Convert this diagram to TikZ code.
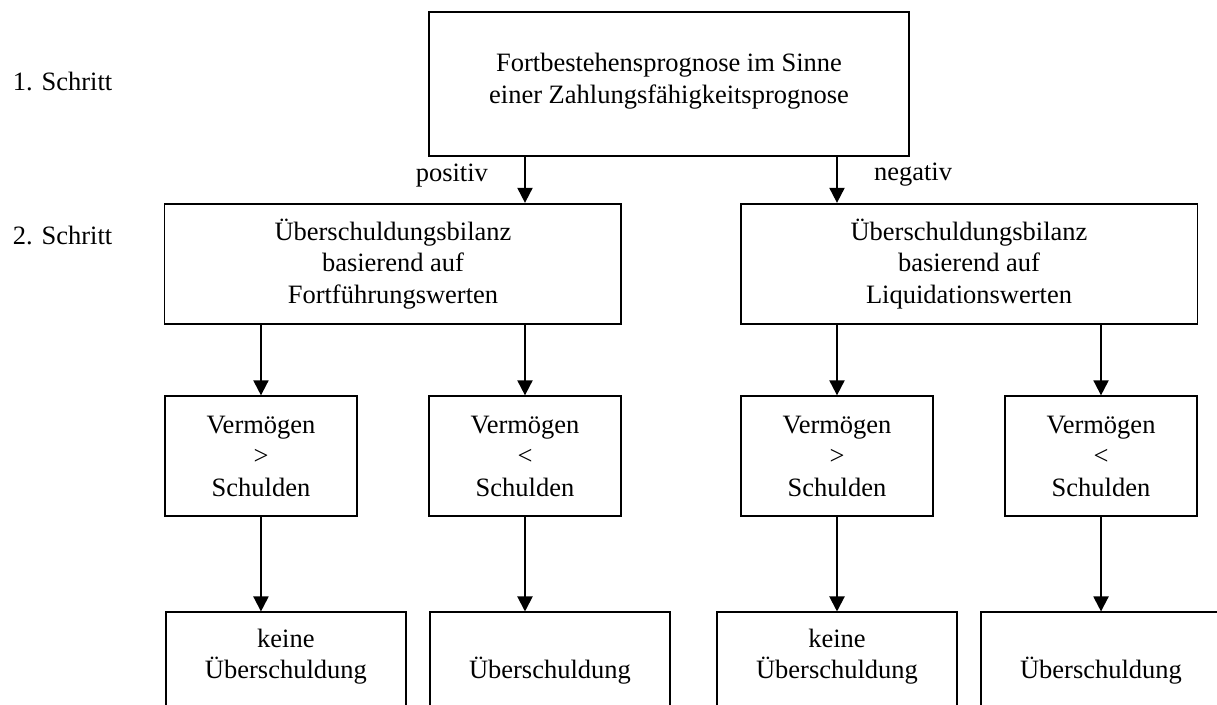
\documentclass[tikz,border=0pt]{standalone}
\usepackage{fontspec}
\setmainfont{Liberation Serif}
\usetikzlibrary{arrows.meta,positioning}

\begin{document}
\begin{tikzpicture}[x=0.453pt,y=-0.453pt,->,>={Triangle[length=6.8pt,width=6.8pt]},line width=0.9pt,on grid,
    every node/.style={font=\fontsize{12}{14.3}\selectfont},
    box/.style={draw,rectangle,align=center,inner sep=0pt},
    rootbox/.style={box,minimum width=217.4pt,minimum height=64.8pt},
    bilanzbox/.style={box,minimum width=207pt,minimum height=54.4pt},
    vglbox/.style={box,minimum width=87pt,minimum height=54.4pt},
    endbox/.style={box,minimum width=108.7pt,minimum height=54.2pt}]
  \useasboundingbox (0,0) rectangle (1217,704);
  \clip (0,0) rectangle (1217,704);

  \node[rootbox] (T) at (669,84) {Fortbestehensprognose im Sinne\\einer Zahlungsfähigkeitsprognose\\[-9pt]};
  \node[anchor=west,inner sep=0pt] (S1) at (12,82) {1. Schritt};
  \node[anchor=west,inner sep=0pt] (S2) at (12,235) {2. Schritt};

  \node[bilanzbox] (FW) [below left=81.5pt and 125.04pt of T] {Überschuldungsbilanz\\basierend auf\\Fortführungswerten};
  \node[bilanzbox] (LW) [below right=81.5pt and 135.9pt of T] {Überschuldungsbilanz\\basierend auf\\Liquidationswerten};

  \node[vglbox] (FA) [below left=87.2pt and 59.8pt of FW] {Vermögen\\\textgreater\\Schulden};
  \node[vglbox] (FB) [below right=87.2pt and 59.8pt of FW] {Vermögen\\\textless\\Schulden};
  \node[vglbox] (LA) [below left=87.2pt and 59.8pt of LW] {Vermögen\\\textgreater\\Schulden};
  \node[vglbox] (LB) [below right=87.2pt and 59.8pt of LW] {Vermögen\\\textless\\Schulden};

  \node[endbox] (FAe) [below right=97.8pt and 11.3pt of FA] {\strut keine\\\strut Überschuldung\\\strut};
  \node[endbox] (FBe) [below right=97.8pt and 11.3pt of FB] {\strut\\\strut Überschuldung\\\strut};
  \node[endbox] (LAe) [below=97.8pt of LA] {\strut keine\\\strut Überschuldung\\\strut};
  \node[endbox] (LBe) [below=97.8pt of LB] {\strut\\\strut Überschuldung\\\strut};

  \path (T.south -| FB) edge node[pos=0.4,left=13pt] {positiv} (FW.north -| FB)
        (T.south -| LA) edge node[pos=0.4,right=13pt] {negativ} (LW.north -| LA)
        (FW.south -| FA) edge (FA)
        (FW.south -| FB) edge (FB)
        (LW.south -| LA) edge (LA)
        (LW.south -| LB) edge (LB)
        (FA) edge (FA |- FAe.north)
        (FB) edge (FB |- FBe.north)
        (LA) edge (LA |- LAe.north)
        (LB) edge (LB |- LBe.north);
\end{tikzpicture}
\end{document}
